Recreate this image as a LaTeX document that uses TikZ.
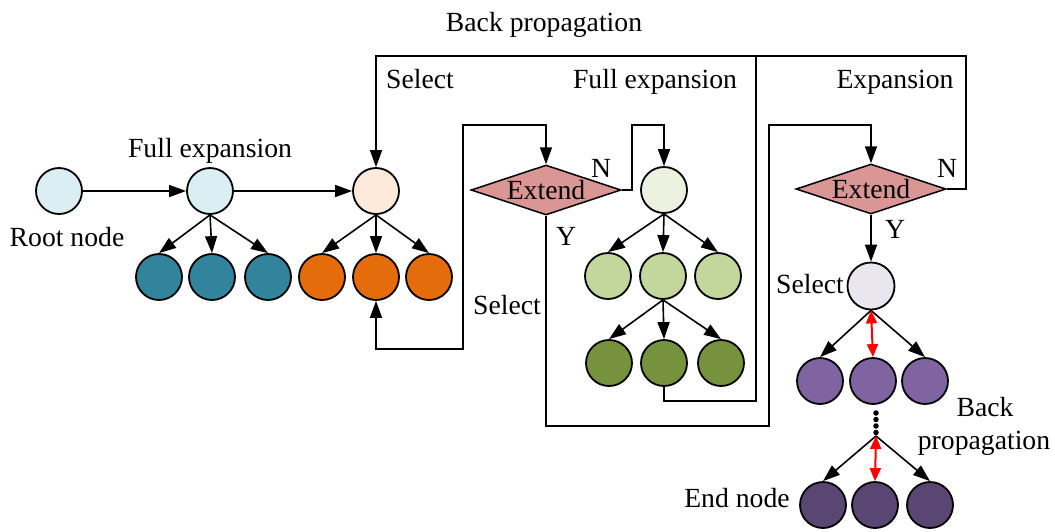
\documentclass[tikz,border=0pt]{standalone}
\usepackage{fontspec}
\setmainfont{Liberation Serif}
\usetikzlibrary{shapes.geometric,arrows.meta}
\definecolor{cLightBlue}{HTML}{DAEEF3}
\definecolor{cPeach}{HTML}{FDEADA}
\definecolor{cTeal}{HTML}{31849B}
\definecolor{cOrange}{HTML}{E46C0A}
\definecolor{cPaleGreen}{HTML}{EBF1DE}
\definecolor{cLightGreen}{HTML}{C3D69B}
\definecolor{cDarkGreen}{HTML}{76923C}
\definecolor{cLavender}{HTML}{E9E6EF}
\definecolor{cPurple}{HTML}{8064A2}
\definecolor{cDarkPurple}{HTML}{5A4673}
\definecolor{cRose}{HTML}{D99694}
\tikzset{
  treenode/.style={circle, draw=black, line width=1.8pt, minimum size=46pt, inner sep=0pt},
  decision/.style={diamond, draw=black, line width=1.5pt, fill=cRose, aspect=3,
    inner sep=0pt, minimum width=150pt, minimum height=50pt, font=\fontsize{27.7}{30}\selectfont},
  link/.style={line width=1.6pt, draw=black},
  arr/.style={link, -{Triangle[length=17pt,width=12pt]}},
  biarr/.style={link, {Triangle[length=17pt,width=12pt]}-{Triangle[length=17pt,width=12pt]}},
  redarr/.style={line width=2pt, draw=red, {Triangle[length=13pt,width=11pt]}-{Triangle[length=13pt,width=11pt]}},
  lbl/.style={inner sep=0pt, anchor=base, font=\fontsize{27.7}{30}\selectfont},
  dot/.style={circle, fill=black, inner sep=0pt, minimum size=5.5pt}
}
\begin{document}
\begin{tikzpicture}[x=1pt,y=-1pt]
\useasboundingbox (0,0) rectangle (1055,531);

% first stage
\node[treenode, fill=cLightBlue] (root) at (59,191) {};
\node[treenode, fill=cLightBlue] (fe) at (210,191) {};
\node[treenode, fill=cTeal] (t1) at (159,277) {};
\node[treenode, fill=cTeal] (t2) at (212,277) {};
\node[treenode, fill=cTeal] (t3) at (268,277) {};

% selected node and its children
\node[treenode, fill=cPeach] (pe) at (376,191) {};
\node[treenode, fill=cOrange] (o1) at (322,277) {};
\node[treenode, fill=cOrange] (o2) at (376,277) {};
\node[treenode, fill=cOrange] (o3) at (429,277) {};

% decisions
\node[decision] (ext1) at (546,190) {Extend};
\node[decision] (ext2) at (871,189) {Extend};

% full expansion branch
\node[treenode, fill=cPaleGreen] (g0) at (664,190) {};
\node[treenode, fill=cLightGreen] (lg1) at (608,276) {};
\node[treenode, fill=cLightGreen] (lg2) at (663,276) {};
\node[treenode, fill=cLightGreen] (lg3) at (718,276) {};
\node[treenode, fill=cDarkGreen] (dg1) at (609,363) {};
\node[treenode, fill=cDarkGreen] (dg2) at (664,363) {};
\node[treenode, fill=cDarkGreen] (dg3) at (721,363) {};

% expansion branch
\node[treenode, fill=cLavender, minimum size=47pt] (sel) at (871,286) {};
\node[treenode, fill=cPurple] (p1) at (820,381) {};
\node[treenode, fill=cPurple] (p2) at (873,381) {};
\node[treenode, fill=cPurple] (p3) at (925,381) {};
\node[dot] (d1) at (876,413) {};
\node[dot] (d2) at (876,419.5) {};
\node[dot] (d3) at (876,426) {};
\node[dot] (d4) at (876,432.5) {};
\coordinate (dt) at (876,436);
\node[treenode, fill=cDarkPurple] (e1) at (823,505) {};
\node[treenode, fill=cDarkPurple] (e2) at (875,505) {};
\node[treenode, fill=cDarkPurple] (e3) at (930,505) {};

% routing points
\coordinate (la) at (463,349);
\coordinate (lb) at (463,125);
\coordinate (na) at (632,125);
\coordinate (ya) at (769,426);
\coordinate (yb) at (769,125);
\coordinate (db) at (756,401);
\coordinate (dc) at (756,56);
\coordinate (tr) at (966,56);

% connectors
\draw[arr] (root) -- (fe);
\draw[arr] (fe) -- (pe);
\foreach \c in {t1,t2,t3} \draw[arr] (fe.south) -- (\c.north);
\foreach \c in {o1,o2,o3} \draw[arr] (pe.south) -- (\c.north);
\draw[biarr] (o2.south) |- (la) -- (lb) -| (ext1.north);
\draw[arr] (ext1.east) -| (na) -| (g0.north);
\foreach \c in {lg1,lg2,lg3} \draw[arr] (g0.south) -- (\c.north);
\foreach \c in {dg1,dg2,dg3} \draw[arr] (lg2.south) -- (\c.north);
\draw[link] (dg2.south) |- (db) -- (dc);
\draw[arr] (ext2.east) -| (tr) -| (pe.north);
\draw[arr] (ext1.south) |- (ya) -- (yb) -| (ext2.north);
\draw[arr] (ext2.south) -- (sel.north);
\draw[arr] (sel.south) -- (p1.north);
\draw[arr] (sel.south) -- (p3.north);
\draw[redarr] (sel.south) -- (p2.north);
\draw[arr] (dt) -- (e1.north);
\draw[arr] (dt) -- (e3.north);
\draw[redarr] (dt) -- (e2.north);

% labels
\node[lbl] (tBack) at (544,31) {Back propagation};
\node[lbl] (tSel1) at (420,88) {Select};
\node[lbl] (tFull2) at (655,88) {Full expansion};
\node[lbl] (tExp) at (895,88) {Expansion};
\node[lbl] (tFull1) at (210,157) {Full expansion};
\node[lbl] (tRoot) at (67,246) {Root node};
\node[lbl] (tSel2) at (507,314) {Select};
\node[lbl] (tN1) at (601,177) {N};
\node[lbl] (tN2) at (947,177) {N};
\node[lbl] (tY1) at (566,245) {Y};
\node[lbl] (tY2) at (895,238) {Y};
\node[lbl] (tSel3) at (810,293) {Select};
\node[lbl] (tBack2) at (985,416) {Back};
\node[lbl] (tProp) at (984,449) {propagation};
\node[lbl] (tEnd) at (737,507) {End node};
\end{tikzpicture}
\end{document}
